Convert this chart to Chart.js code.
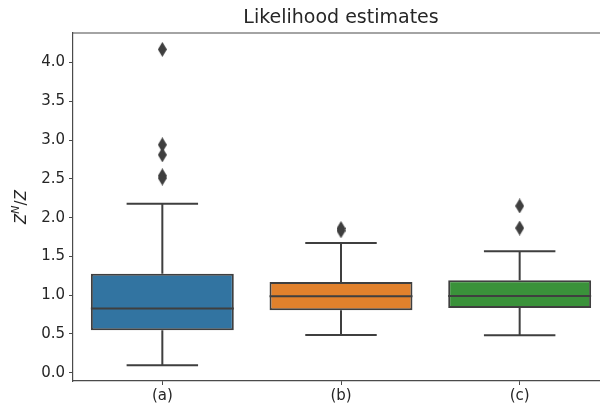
<!DOCTYPE html>
<html>
<head>
<meta charset="utf-8">
<script src="https://cdn.jsdelivr.net/npm/chart.js@4.4.1/dist/chart.umd.min.js"></script>
<style>
  html, body { margin: 0; padding: 0; background: #ffffff; overflow: hidden; }
  #wrap { width: 615px; height: 412px; position: relative; }
</style>
</head>
<body>
<div id="wrap"><canvas id="chart"></canvas></div>
<script>
// Box summaries per method
const categories = ['(a)', '(b)', '(c)'];
const q1 = [0.546, 0.804, 0.834];
const medians = [0.826, 0.985, 0.989];
const q3 = [1.277, 1.169, 1.191];
const whiskerLow = [0.094, 0.485, 0.481];
const whiskerHigh = [2.18, 1.672, 1.565];
// Points beyond the whiskers
const outliersA = [4.17, 2.94, 2.81, 2.54, 2.51];
const outliersB = [1.83, 1.86];
const outliersC = [2.15, 1.866];
const yTicks = [0.0, 0.5, 1.0, 1.5, 2.0, 2.5, 3.0, 3.5, 4.0];

const boxColors = ['#3274a1', '#e1812c', '#3a923a'];
const lineGray = '#3f3f3f';
const spineGray = '#4a4a4a';
const FONT = 'DejaVu Sans';

// thin diamond marker
function diamond(w, h, color) {
  const c = document.createElement('canvas');
  c.width = w; c.height = h;
  const g = c.getContext('2d');
  g.fillStyle = color;
  g.beginPath();
  g.moveTo(w / 2, 0); g.lineTo(w, h / 2); g.lineTo(w / 2, h); g.lineTo(0, h / 2);
  g.closePath(); g.fill();
  return c;
}
const marker = diamond(9, 15, lineGray);

const outlierPoints = [];
[outliersA, outliersB, outliersC].forEach((arr, i) => {
  arr.forEach(v => outlierPoints.push({ x: categories[i], y: v }));
});

// whiskers, caps, medians, spines, title and y label
const boxExtras = {
  id: 'boxExtras',
  afterDatasetsDraw(chart) {
    const ctx = chart.ctx;
    const xs = chart.scales.x, ys = chart.scales.y;
    const meta = chart.getDatasetMeta(0);
    ctx.save();
    ctx.strokeStyle = lineGray;
    ctx.lineWidth = 2;
    ctx.lineCap = 'butt';
    categories.forEach((c, i) => {
      const bar = meta.data[i];
      const cx = xs.getPixelForValue(i);
      const half = bar.width / 2;
      const capHalf = half / 2;
      const yq1 = ys.getPixelForValue(q1[i]);
      const yq3 = ys.getPixelForValue(q3[i]);
      const ylo = ys.getPixelForValue(whiskerLow[i]);
      const yhi = ys.getPixelForValue(whiskerHigh[i]);
      const ymed = ys.getPixelForValue(medians[i]);
      ctx.beginPath();
      ctx.moveTo(cx, yq3); ctx.lineTo(cx, yhi);
      ctx.moveTo(cx - capHalf, yhi); ctx.lineTo(cx + capHalf, yhi);
      ctx.moveTo(cx, yq1); ctx.lineTo(cx, ylo);
      ctx.moveTo(cx - capHalf, ylo); ctx.lineTo(cx + capHalf, ylo);
      ctx.moveTo(cx - half, ymed); ctx.lineTo(cx + half, ymed);
      ctx.stroke();
    });
    ctx.restore();
  },
  afterDraw(chart) {
    const ctx = chart.ctx;
    const a = chart.chartArea;
    ctx.save();
    ctx.strokeStyle = spineGray;
    ctx.lineWidth = 1.2;
    ctx.beginPath();
    ctx.moveTo(a.left, a.top); ctx.lineTo(a.right, a.top);
    ctx.moveTo(a.right, a.top); ctx.lineTo(a.right, a.bottom);
    ctx.stroke();
    // title
    ctx.fillStyle = '#262626';
    ctx.font = '19px "' + FONT + '"';
    ctx.textAlign = 'center';
    ctx.textBaseline = 'alphabetic';
    ctx.fillText('Likelihood estimates', (a.left + a.right) / 2, 23);
    // y label Z^N/Z
    ctx.translate(26, (a.top + a.bottom) / 2);
    ctx.rotate(-Math.PI / 2);
    const big = 'italic 15px "' + FONT + '"';
    const small = 'italic 11px "' + FONT + '"';
    const up = '15px "' + FONT + '"';
    const parts = [
      { t: 'Z', f: big, dy: 0 },
      { t: 'N', f: small, dy: -7 },
      { t: '/', f: up, dy: 0 },
      { t: 'Z', f: big, dy: 0 }
    ];
    let total = 0;
    parts.forEach(p => { ctx.font = p.f; p.w = ctx.measureText(p.t).width; total += p.w; });
    let x = -total / 2;
    ctx.textAlign = 'left';
    parts.forEach(p => { ctx.font = p.f; ctx.fillText(p.t, x, p.dy); x += p.w; });
    ctx.restore();
  }
};

new Chart(document.getElementById('chart'), {
  data: {
    labels: categories,
    datasets: [
      {
        type: 'bar',
        data: categories.map((c, i) => [q1[i], q3[i]]),
        backgroundColor: boxColors,
        borderColor: lineGray,
        borderWidth: 2,
        borderSkipped: false,
        barPercentage: 0.8,
        categoryPercentage: 1.0,
        order: 2
      },
      {
        type: 'line',
        data: outlierPoints,
        showLine: false,
        pointStyle: marker,
        pointRadius: 5,
        order: 1
      }
    ]
  },
  options: {
    responsive: true,
    maintainAspectRatio: false,
    animation: false,
    layout: { padding: { top: 33, right: 0, left: 0, bottom: 0 } },
    plugins: { legend: { display: false }, tooltip: { enabled: false }, title: { display: false } },
    scales: {
      x: {
        type: 'category',
        offset: true,
        grid: { display: true, drawOnChartArea: false, drawTicks: true, tickLength: 4, color: spineGray, offset: false },
        border: { display: true, color: spineGray, width: 1.2 },
        ticks: { color: '#262626', font: { family: FONT, size: 15 }, padding: 2 },
        afterBuildTicks(scale) { scale.ticks = categories.map((c, i) => ({ value: i })); },
        afterFit(scale) { scale.height = 31; }
      },
      y: {
        type: 'linear',
        min: -0.108,
        max: 4.382,
        grid: { display: true, drawOnChartArea: false, drawTicks: true, tickLength: 4, color: spineGray },
        border: { display: true, color: spineGray, width: 1.2 },
        ticks: {
          color: '#262626', font: { family: FONT, size: 15 }, padding: 4,
          callback: v => Number(v).toFixed(1)
        },
        afterBuildTicks(scale) { scale.ticks = yTicks.map(v => ({ value: v })); },
        afterFit(scale) { scale.width = 73; }
      }
    }
  },
  plugins: [boxExtras]
});
</script>
</body>
</html>
